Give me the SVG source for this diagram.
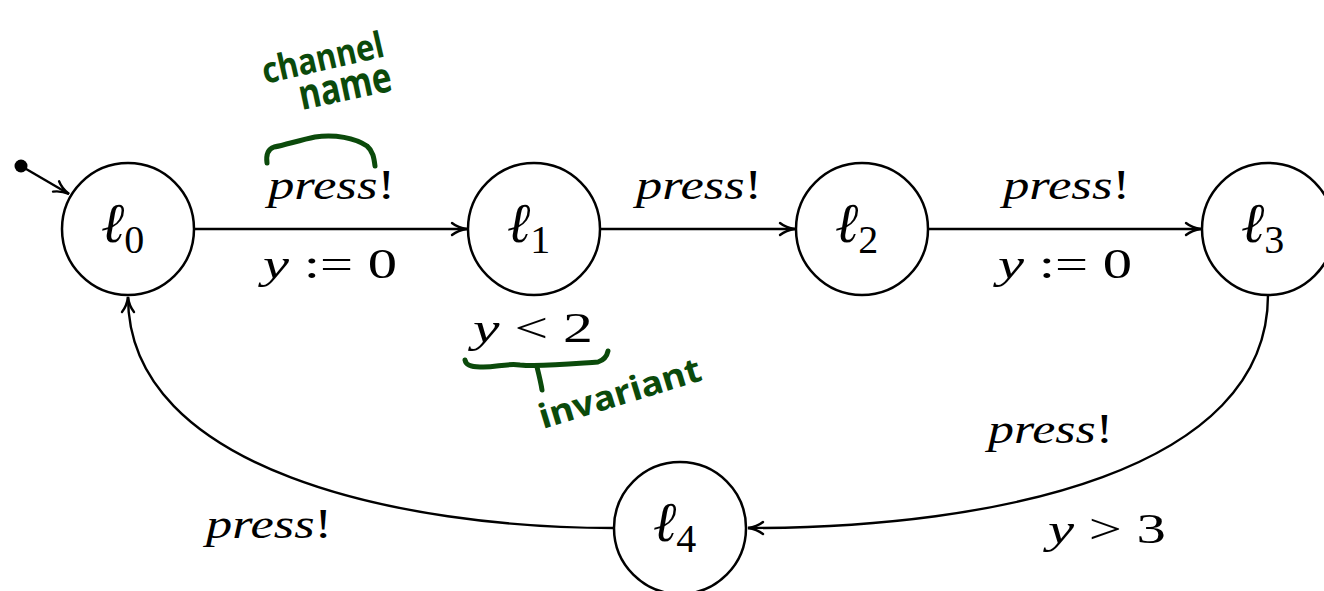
<svg xmlns="http://www.w3.org/2000/svg" width="1324" height="591" viewBox="0 0 1324 591">
  <style>
    .loc { fill: #fff; stroke: #000; stroke-width: 2.5; }
    .edge { fill: none; stroke: #000; stroke-width: 2.4; marker-end: url(#tip); }
    .lbl { font-family: 'Liberation Serif', 'DejaVu Serif', serif; font-size: 42px; fill: #000; }
    .it { font-style: italic; }
    .nm { font-family: 'Liberation Serif', 'DejaVu Serif', serif; font-size: 56px; fill: #000; }
    .sub { font-size: 40px; font-style: normal; }
    .ink { fill: none; stroke: #0b4a0b; stroke-width: 5; stroke-linecap: round; stroke-linejoin: round; }
    .hand { font-family: 'Noto Sans', 'DejaVu Sans', sans-serif; font-weight: bold; fill: #0b4a0b; }
  </style>
  <defs>
    <marker id="tip" viewBox="-17 -8 19 16" refX="0" refY="0" markerWidth="19" markerHeight="16" markerUnits="userSpaceOnUse" orient="auto">
      <path d="M-15,-6 C-10,-2 -4,-0.5 0,0 C-4,0.5 -10,2 -15,6" fill="none" stroke="#000" stroke-width="2.4" stroke-linecap="round"/>
    </marker>
  </defs>

  <!-- transitions -->
  <g id="edges">
    <circle cx="21" cy="166" r="6.5" fill="#000"/>
    <path class="edge" d="M21,166 L69,194"/>
    <path class="edge" d="M194,229 L467,229"/>
    <path class="edge" d="M600,229 L795,229"/>
    <path class="edge" d="M928,229 L1201,229"/>
    <path class="edge" d="M1268,295 C1268,470 1000,528 748,528"/>
    <path class="edge" d="M614,528 C400,528 128,470 128,297"/>
  </g>

  <!-- edge labels -->
  <g id="labels" class="lbl">
    <text x="268" y="199" textLength="127" lengthAdjust="spacingAndGlyphs"><tspan class="it">press</tspan>!</text>
    <text x="263" y="278" textLength="134" lengthAdjust="spacingAndGlyphs" xml:space="preserve"><tspan class="it">y</tspan> := 0</text>
    <text x="636" y="199" textLength="126" lengthAdjust="spacingAndGlyphs"><tspan class="it">press</tspan>!</text>
    <text x="1003" y="199" textLength="127" lengthAdjust="spacingAndGlyphs"><tspan class="it">press</tspan>!</text>
    <text x="998" y="278" textLength="134" lengthAdjust="spacingAndGlyphs" xml:space="preserve"><tspan class="it">y</tspan> := 0</text>
    <text x="473" y="342" textLength="120" lengthAdjust="spacingAndGlyphs" xml:space="preserve"><tspan class="it">y</tspan> &lt; 2</text>
    <text x="988" y="443" textLength="125" lengthAdjust="spacingAndGlyphs"><tspan class="it">press</tspan>!</text>
    <text x="1048" y="543" textLength="118" lengthAdjust="spacingAndGlyphs" xml:space="preserve"><tspan class="it">y</tspan> &gt; 3</text>
    <text x="206" y="538" textLength="126" lengthAdjust="spacingAndGlyphs"><tspan class="it">press</tspan>!</text>
  </g>

  <!-- locations -->
  <g id="l0">
    <circle class="loc" cx="128" cy="229" r="66"/>
    <text class="nm" x="101" y="242"><tspan class="it">ℓ</tspan><tspan class="sub" dy="11">0</tspan></text>
  </g>
  <g id="l1">
    <circle class="loc" cx="534" cy="229" r="66"/>
    <text class="nm" x="507" y="242"><tspan class="it">ℓ</tspan><tspan class="sub" dy="11">1</tspan></text>
  </g>
  <g id="l2">
    <circle class="loc" cx="862" cy="229" r="66"/>
    <text class="nm" x="835" y="242"><tspan class="it">ℓ</tspan><tspan class="sub" dy="11">2</tspan></text>
  </g>
  <g id="l3">
    <circle class="loc" cx="1268" cy="229" r="66"/>
    <text class="nm" x="1241" y="242"><tspan class="it">ℓ</tspan><tspan class="sub" dy="11">3</tspan></text>
  </g>
  <g id="l4">
    <circle class="loc" cx="680" cy="528" r="66"/>
    <text class="nm" x="653" y="541"><tspan class="it">ℓ</tspan><tspan class="sub" dy="11">4</tspan></text>
  </g>

  <!-- hand-drawn notes -->
  <g id="note-channel">
    <path class="ink" d="M267,163 C266,155 268,149 274,147 C285,145 300,140 315,137 C335,134 355,138 367,146 C373,151 374,158 375,166"/>
    <text class="hand" font-size="36" transform="translate(265,84) rotate(-13)" textLength="124" lengthAdjust="spacingAndGlyphs">channel</text>
    <text class="hand" font-size="42" transform="translate(302,110) rotate(-12)" textLength="94" lengthAdjust="spacingAndGlyphs">name</text>
  </g>
  <g id="note-invariant">
    <path class="ink" d="M465,360 C466,365 470,367 480,367 C495,368 505,363 520,365 C540,367 570,364 598,362 C604,360 607,356 608,351"/>
    <path class="ink" d="M537,367 C539,375 541,383 542,390"/>
    <text class="hand" font-size="34" transform="translate(543,429) rotate(-17)" textLength="168" lengthAdjust="spacingAndGlyphs">invariant</text>
  </g>
</svg>
